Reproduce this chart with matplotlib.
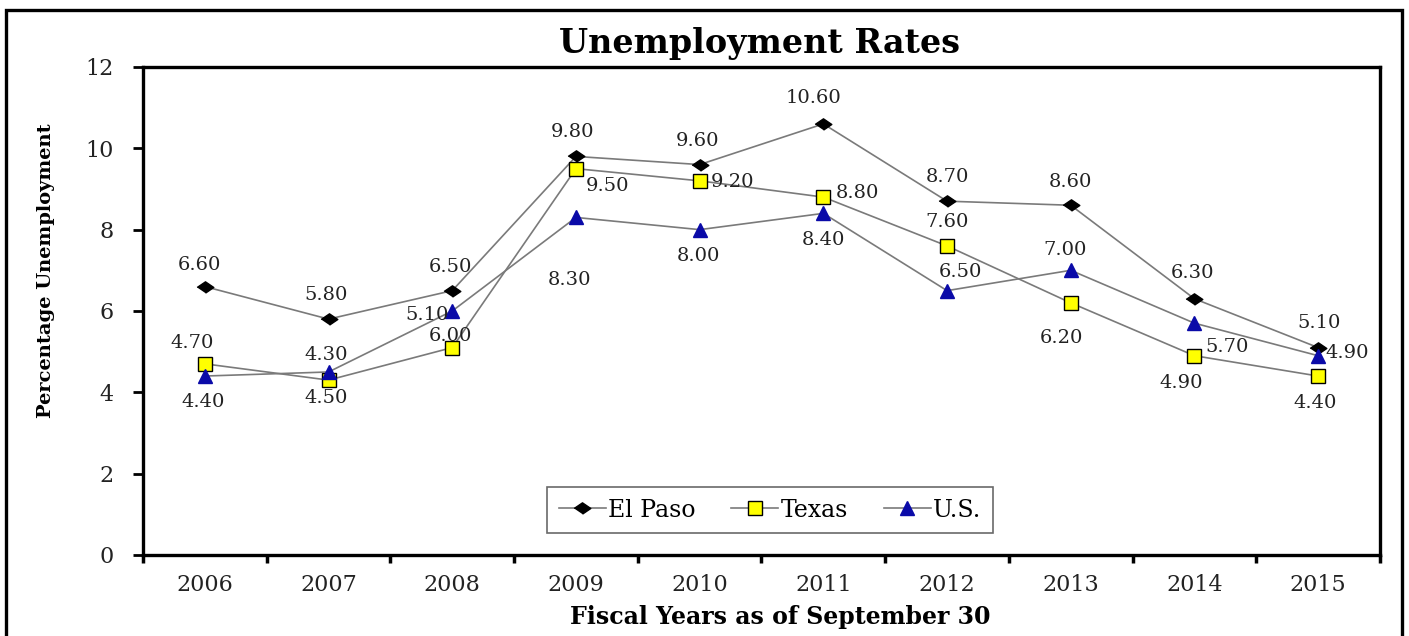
import matplotlib
matplotlib.use("Agg")
from matplotlib import pyplot as plt
from matplotlib.patches import Rectangle

years = ["2006", "2007", "2008", "2009", "2010", "2011", "2012", "2013", "2014", "2015"]
el_paso = [6.6, 5.8, 6.5, 9.8, 9.6, 10.6, 8.7, 8.6, 6.3, 5.1]
texas = [4.7, 4.3, 5.1, 9.5, 9.2, 8.8, 7.6, 6.2, 4.9, 4.4]
us = [4.4, 4.5, 6.0, 8.3, 8.0, 8.4, 6.5, 7.0, 5.7, 4.9]

# label offsets in pixels (dx, dy) for each point
el_paso_off = [(-5, 22), (-2, 24), (-2, 24), (-3, 24), (-2, 24), (-10, 26), (0, 24), (0, 23), (-2, 26), (1, 25)]
texas_off = [(-13, 21), (-2, 25), (-25, 33), (32, -17), (33, -1), (34, 4), (0, 24), (-9, -35), (-13, -27), (-3, -27)]
us_off = [(-2, -26), (-2, -26), (-2, -25), (-6, -63), (-1, -26), (0, -27), (13, 19), (-6, 20), (33, -24), (29, 3)]

serif = ["DejaVu Serif"]

fig = plt.figure(figsize=(14.09, 6.36), dpi=100)
ax = fig.add_axes([0.1015, 0.1274, 0.8779, 0.7673])

x = list(range(len(years)))
diamond = [(-1, 0), (0, 0.68), (1, 0), (0, -0.68)]
ax.plot(x, el_paso, color="#7a7a7a", lw=1.2, marker=diamond, ms=12,
        mfc="black", mec="black", label="El Paso")
ax.plot(x, texas, color="#7a7a7a", lw=1.2, marker="s", ms=10,
        mfc="#ffff00", mec="black", mew=1, label="Texas")
ax.plot(x, us, color="#7a7a7a", lw=1.2, marker="^", ms=10,
        mfc="#0a0aa8", mec="#0a0aa8", label="U.S.")

# data labels
for vals, offs in [(el_paso, el_paso_off), (texas, texas_off), (us, us_off)]:
    for i, v in enumerate(vals):
        ax.annotate("{:.2f}".format(v), (i, v), xytext=offs[i], textcoords="offset pixels",
                    ha="center", va="center", fontsize=14, family=serif, color="#222222")

ax.set_xlim(-0.5, 9.5)
ax.set_ylim(0, 12)
ax.set_yticks(range(0, 13, 2))
ax.set_xticks(x)
ax.set_xticklabels(years)
ax.set_xticks([i - 0.5 for i in range(11)], minor=True)
ax.tick_params(axis="x", which="major", length=0, pad=14, labelsize=16)
ax.tick_params(axis="x", which="minor", length=6, width=2.5, direction="out")
ax.tick_params(axis="y", length=7, width=2, direction="out", pad=14, labelsize=16)
for lab in ax.get_xticklabels() + ax.get_yticklabels():
    lab.set_family(serif)
    lab.set_color("#222222")
for s in ax.spines.values():
    s.set_linewidth(2.4)
    s.set_color("black")

leg = ax.legend(loc="center", bbox_to_anchor=(0.507, 0.092), ncol=3, frameon=True,
                fancybox=False, handlelength=2.0, handletextpad=0.1, columnspacing=1.5,
                borderpad=0.5, prop={"family": serif, "size": 17})
leg.get_frame().set_edgecolor("#444444")
leg.get_frame().set_linewidth(1.2)

fig.text(0.539, 0.932, "Unemployment Rates", ha="center", va="center",
         fontsize=24, fontweight="bold", family=serif)
fig.text(0.554, 0.030, "Fiscal Years as of September 30", ha="center", va="center",
         fontsize=17, fontweight="bold", family=serif)
fig.text(0.033, 0.575, "Percentage Unemployment", ha="center", va="center",
         rotation=90, fontsize=14, fontweight="bold", family=serif)

fig.patches.append(Rectangle((0.0043, -0.01), 0.991, 0.994, transform=fig.transFigure,
                             fill=False, edgecolor="black", linewidth=2.4))

plt.savefig("out.png", dpi=100)
